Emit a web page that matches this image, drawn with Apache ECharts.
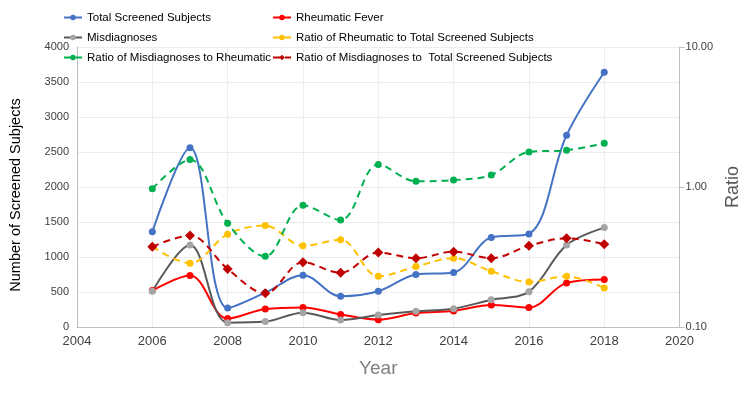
<!DOCTYPE html>
<html><head><meta charset="utf-8">
<script src="https://cdn.jsdelivr.net/npm/echarts@6/dist/echarts.min.js"></script>
<style>html,body{margin:0;padding:0;background:#fff}#c{width:750px;height:393px}</style>
</head><body><div id="c"></div>
<script>
const years = [2006,2007,2008,2009,2010,2011,2012,2013,2014,2015,2016,2017,2018];
const totalScreened = [1360,2560,270,490,740,440,510,750,780,1280,1330,2740,3640];
const rheumaticFever = [520,735,120,257,280,180,105,200,230,315,277,630,680];
const misdiagnoses = [510,1170,62,77,205,100,170,224,262,390,505,1170,1420];
const ratioRheumTotal = [0.375,0.285,0.46,0.53,0.38,0.42,0.23,0.27,0.31,0.25,0.21,0.23,0.19];
const ratioMisRheum = [0.97,1.57,0.55,0.32,0.74,0.58,1.45,1.10,1.12,1.22,1.78,1.83,2.05];
const ratioMisTotal = [0.375,0.45,0.26,0.174,0.29,0.244,0.34,0.31,0.345,0.31,0.38,0.43,0.39];

const pair = arr => years.map((y,i)=>[y,arr[i]]);
const font = '"Liberation Sans", Arial, sans-serif';
function line(name, data, color, opts){
  return Object.assign({
    name, type:'line', data:pair(data), smooth:0.35, symbol:'circle', symbolSize:7,
    lineStyle:{color, width:2}, itemStyle:{color}
  }, opts||{});
}
const series = [
  line('Total Screened Subjects', totalScreened, '#4472C4'),
  line('Rheumatic Fever', rheumaticFever, '#FF0000'),
  line('Misdiagnoses', misdiagnoses, '#595959', {itemStyle:{color:'#A5A5A5'}}),
  line('Ratio of Rheumatic to Total Screened Subjects', ratioRheumTotal, '#FFC000', {yAxisIndex:1, lineStyle:{color:'#FFC000',width:2,type:[7,5]}}),
  line('Ratio of Misdiagnoses to Rheumatic', ratioMisRheum, '#00B050', {yAxisIndex:1, lineStyle:{color:'#00B050',width:2,type:[7,5]}}),
  line('Ratio of Misdiagnoses to  Total Screened Subjects', ratioMisTotal, '#C00000', {yAxisIndex:1, symbol:'diamond', symbolSize:10, lineStyle:{color:'#C00000',width:2,type:[7,5]}})
];
const legendBase = {orient:'vertical', top:11, padding:0, itemGap:7, itemWidth:18, itemHeight:7,
  textStyle:{fontFamily:font, fontSize:11.5, color:'#000', lineHeight:13}};
const chart = echarts.init(document.getElementById('c'));
chart.setOption({
  animation:false,
  legend:[
    Object.assign({left:63, data:['Total Screened Subjects','Misdiagnoses','Ratio of Misdiagnoses to Rheumatic']}, legendBase),
    Object.assign({left:272, data:['Rheumatic Fever','Ratio of Rheumatic to Total Screened Subjects','Ratio of Misdiagnoses to  Total Screened Subjects']}, legendBase)
  ],
  grid:{left:74, right:53, top:47, bottom:66},
  xAxis:{type:'value', min:2004, max:2020, interval:2,
    name:'Year', nameLocation:'middle', nameGap:32,
    nameTextStyle:{fontFamily:font, fontSize:19, color:'#7F7F7F'},
    axisLine:{lineStyle:{color:'#BFBFBF'}}, axisTick:{show:false},
    axisLabel:{fontFamily:font, fontSize:13, color:'#404040', margin:8, formatter:v=>String(v)},
    splitLine:{show:true, lineStyle:{color:'#EDEDED'}}},
  yAxis:[
    {type:'value', min:0, max:4000, interval:500,
     name:'Number of Screened Subjects', nameLocation:'middle', nameGap:54,
     nameTextStyle:{fontFamily:font, fontSize:14.5, color:'#000', padding:[0,16,0,0]},
     axisLine:{show:true, lineStyle:{color:'#BFBFBF'}}, axisTick:{show:false},
     axisLabel:{fontFamily:font, fontSize:11, color:'#404040', margin:8, formatter:v=>String(v)},
     splitLine:{show:true, lineStyle:{color:'#EDEDED'}}},
    {type:'log', logBase:10, min:0.1, max:10, position:'right',
     name:'Ratio', nameLocation:'middle', nameGap:36, nameRotate:90,
     nameTextStyle:{fontFamily:font, fontSize:18, color:'#595959'},
     axisLine:{show:true, lineStyle:{color:'#BFBFBF'}},
     axisTick:{show:true, inside:false, length:5, lineStyle:{color:'#BFBFBF'}},
     axisLabel:{fontFamily:font, fontSize:11, color:'#404040', margin:6, formatter:v=>v.toFixed(2)},
     splitLine:{show:false}, minorTick:{show:false}}
  ],
  series
});
</script></body></html>
